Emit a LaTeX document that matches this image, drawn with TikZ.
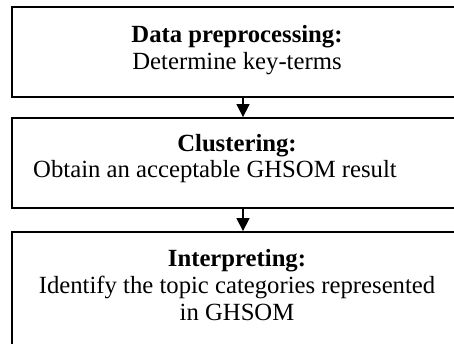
\documentclass[tikz,border=0pt]{standalone}
\usepackage{fontspec}
\setmainfont{Liberation Serif}
\usetikzlibrary{arrows.meta,positioning}

\begin{document}
\begin{tikzpicture}[x=1pt,y=-1pt,>={Triangle[width=13pt,length=13pt]},
  stage/.style={draw,line width=1.8pt,minimum width=462pt,inner sep=0pt},
  txt/.style={anchor=base,inner sep=0pt,font=\fontsize{24.7}{28}\selectfont},
  head/.style={txt,font=\fontsize{24.7}{28}\selectfont\bfseries}]
  \path[use as bounding box,clip] (0,0) rectangle (454,344);

  % Stage boxes
  \node[stage,minimum height=90pt] (prep) at (243,52) {};
  \node[stage,minimum height=90pt] (clus) at (243,163) {};
  \node[stage,minimum height=140pt] (interp) at (243,302) {};

  % Arrows between stages
  \draw[->,line width=1.3pt] (prep) -- (clus);
  \draw[->,line width=1.3pt] (clus) -- (interp);

  % Stage texts
  \node[head] (prephead) at (237,43) {Data preprocessing:};
  \node[txt] (prepline) at (237,70) {Determine key-terms};
  \node[head] (clushead) at (237,151.5) {Clustering:};
  \node[txt] (clusline) at (215,178) {Obtain an acceptable GHSOM result};
  \node[head] (interphead) at (237,266.7) {Interpreting:};
  \node[txt] (interpline) at (237,293) {Identify the topic categories represented};
  \node[txt] (interpend) at (237,320) {in GHSOM};
\end{tikzpicture}
\end{document}
